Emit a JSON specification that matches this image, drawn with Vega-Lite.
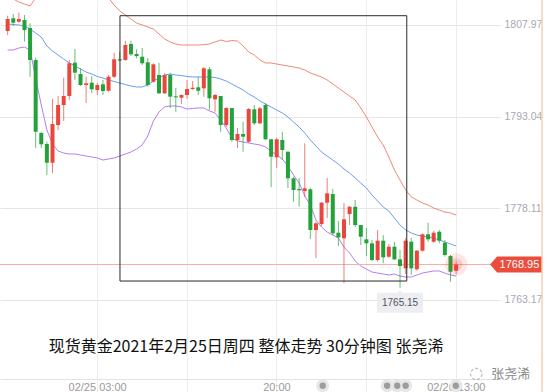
{
  "$schema": "https://vega.github.io/schema/vega-lite/v6.json",
  "width": 500,
  "height": 392,
  "autosize": {"type": "none"},
  "padding": {"left": 0, "top": 0, "right": 50, "bottom": 0},
  "background": "#ffffff",
  "config": {"view": {"stroke": null}, "font": "Liberation Sans"},
  "datasets": {
    "candles": [
      {"i":0,"o":1806.99,"c":1808.94,"h":1809.48,"l":1806.34,"up":1813.02,"mid":1808.13,"lo":1803.89},
      {"i":1,"o":1809.06,"c":1808.34,"h":1809.76,"l":1807.80,"up":1812.20,"mid":1808.05,"lo":1803.89},
      {"i":2,"o":1808.50,"c":1808.94,"h":1809.97,"l":1808.34,"up":1811.71,"mid":1807.97,"lo":1804.22},
      {"i":3,"o":1808.78,"c":1807.15,"h":1809.60,"l":1805.25,"up":1811.39,"mid":1807.80,"lo":1804.38},
      {"i":4,"o":1807.48,"c":1802.26,"h":1808.24,"l":1799.54,"up":1811.06,"mid":1807.32,"lo":1803.89},
      {"i":5,"o":1802.26,"c":1790.58,"h":1802.64,"l":1787.93,"up":1812.37,"mid":1806.66,"lo":1799.33},
      {"i":6,"o":1790.37,"c":1788.53,"h":1790.58,"l":1787.93,"up":1814.48,"mid":1806.01,"lo":1794.93},
      {"i":7,"o":1788.58,"c":1785.53,"h":1788.95,"l":1783.53,"up":1816.11,"mid":1804.55,"lo":1790.86},
      {"i":8,"o":1785.53,"c":1791.84,"h":1795.91,"l":1783.85,"up":1816.93,"mid":1803.73,"lo":1788.58},
      {"i":9,"o":1791.67,"c":1794.93,"h":1796.40,"l":1790.86,"up":1817.25,"mid":1803.08,"lo":1787.44},
      {"i":10,"o":1794.93,"c":1796.40,"h":1799.38,"l":1792.33,"up":1817.25,"mid":1802.43,"lo":1787.11},
      {"i":11,"o":1796.40,"c":1801.73,"h":1802.26,"l":1795.75,"up":1816.93,"mid":1801.78,"lo":1786.95},
      {"i":12,"o":1801.83,"c":1800.20,"h":1804.06,"l":1799.01,"up":1816.60,"mid":1801.29,"lo":1786.95},
      {"i":13,"o":1799.98,"c":1798.19,"h":1800.91,"l":1798.03,"up":1816.11,"mid":1800.80,"lo":1786.79},
      {"i":14,"o":1798.19,"c":1798.47,"h":1799.54,"l":1795.26,"up":1815.62,"mid":1800.31,"lo":1786.62},
      {"i":15,"o":1798.57,"c":1797.49,"h":1799.66,"l":1796.84,"up":1814.97,"mid":1799.98,"lo":1786.46},
      {"i":16,"o":1797.38,"c":1798.19,"h":1798.52,"l":1796.56,"up":1813.99,"mid":1799.58,"lo":1786.30},
      {"i":17,"o":1798.31,"c":1797.21,"h":1799.01,"l":1796.56,"up":1813.18,"mid":1799.33,"lo":1785.97},
      {"i":18,"o":1797.26,"c":1799.54,"h":1799.82,"l":1797.10,"up":1812.37,"mid":1799.01,"lo":1786.14},
      {"i":19,"o":1799.54,"c":1802.38,"h":1803.41,"l":1799.33,"up":1811.23,"mid":1798.76,"lo":1786.30},
      {"i":20,"o":1802.38,"c":1802.18,"h":1803.57,"l":1802.15,"up":1810.25,"mid":1798.52,"lo":1786.62},
      {"i":21,"o":1802.26,"c":1804.71,"h":1805.41,"l":1802.15,"up":1809.60,"mid":1798.27,"lo":1786.95},
      {"i":22,"o":1804.87,"c":1803.19,"h":1805.41,"l":1802.92,"up":1808.94,"mid":1798.03,"lo":1787.28},
      {"i":23,"o":1803.24,"c":1802.92,"h":1804.01,"l":1802.54,"up":1808.29,"mid":1797.87,"lo":1787.77},
      {"i":24,"o":1802.80,"c":1801.73,"h":1804.22,"l":1801.45,"up":1807.97,"mid":1797.87,"lo":1788.42},
      {"i":25,"o":1801.89,"c":1798.19,"h":1802.59,"l":1797.91,"up":1807.64,"mid":1798.19,"lo":1789.88},
      {"i":26,"o":1798.73,"c":1801.56,"h":1801.73,"l":1798.57,"up":1807.32,"mid":1798.84,"lo":1792.33},
      {"i":27,"o":1799.82,"c":1796.84,"h":1801.78,"l":1796.73,"up":1806.50,"mid":1799.33,"lo":1793.79},
      {"i":28,"o":1796.84,"c":1799.82,"h":1800.10,"l":1796.73,"up":1805.69,"mid":1799.82,"lo":1794.61},
      {"i":29,"o":1799.82,"c":1796.29,"h":1800.15,"l":1794.44,"up":1805.20,"mid":1799.98,"lo":1794.77},
      {"i":30,"o":1796.35,"c":1796.18,"h":1797.70,"l":1793.84,"up":1804.87,"mid":1799.82,"lo":1794.77},
      {"i":31,"o":1796.12,"c":1796.56,"h":1796.64,"l":1795.10,"up":1804.71,"mid":1799.74,"lo":1794.61},
      {"i":32,"o":1796.56,"c":1797.54,"h":1799.01,"l":1795.91,"up":1804.71,"mid":1799.58,"lo":1794.28},
      {"i":33,"o":1797.54,"c":1797.75,"h":1798.84,"l":1797.38,"up":1804.71,"mid":1799.50,"lo":1794.36},
      {"i":34,"o":1797.82,"c":1797.26,"h":1799.54,"l":1796.56,"up":1804.71,"mid":1799.50,"lo":1794.45},
      {"i":35,"o":1797.65,"c":1800.91,"h":1801.12,"l":1796.29,"up":1804.76,"mid":1799.50,"lo":1794.45},
      {"i":36,"o":1800.75,"c":1796.03,"h":1801.12,"l":1794.12,"up":1804.87,"mid":1799.50,"lo":1793.96},
      {"i":37,"o":1795.86,"c":1796.56,"h":1796.73,"l":1793.84,"up":1805.20,"mid":1799.41,"lo":1793.63},
      {"i":38,"o":1796.40,"c":1791.67,"h":1796.40,"l":1790.58,"up":1805.52,"mid":1799.17,"lo":1792.49},
      {"i":39,"o":1791.67,"c":1794.44,"h":1794.61,"l":1791.35,"up":1805.28,"mid":1798.84,"lo":1791.19},
      {"i":40,"o":1794.44,"c":1789.23,"h":1794.44,"l":1788.95,"up":1805.44,"mid":1798.35,"lo":1789.56},
      {"i":41,"o":1789.23,"c":1790.21,"h":1791.19,"l":1787.93,"up":1805.36,"mid":1797.87,"lo":1789.07},
      {"i":42,"o":1790.21,"c":1789.77,"h":1792.21,"l":1787.33,"up":1804.55,"mid":1797.38,"lo":1788.91},
      {"i":43,"o":1788.95,"c":1794.28,"h":1794.44,"l":1788.74,"up":1803.57,"mid":1796.73,"lo":1788.74},
      {"i":44,"o":1794.23,"c":1791.95,"h":1794.93,"l":1791.67,"up":1803.08,"mid":1796.24,"lo":1788.58},
      {"i":45,"o":1791.95,"c":1794.40,"h":1794.61,"l":1791.84,"up":1802.27,"mid":1795.59,"lo":1788.42},
      {"i":46,"o":1794.93,"c":1789.35,"h":1795.21,"l":1789.23,"up":1801.78,"mid":1795.10,"lo":1788.09},
      {"i":47,"o":1789.35,"c":1786.51,"h":1789.35,"l":1781.57,"up":1801.78,"mid":1794.61,"lo":1787.44},
      {"i":48,"o":1786.41,"c":1789.35,"h":1789.56,"l":1784.67,"up":1801.61,"mid":1794.12,"lo":1786.79},
      {"i":49,"o":1789.23,"c":1787.60,"h":1790.58,"l":1785.97,"up":1801.45,"mid":1793.63,"lo":1786.14},
      {"i":50,"o":1787.33,"c":1782.99,"h":1787.33,"l":1781.41,"up":1801.29,"mid":1792.98,"lo":1785.00},
      {"i":51,"o":1782.99,"c":1781.09,"h":1783.25,"l":1779.18,"up":1801.12,"mid":1792.16,"lo":1783.53},
      {"i":52,"o":1781.25,"c":1781.05,"h":1783.04,"l":1778.36,"up":1800.96,"mid":1791.35,"lo":1782.23},
      {"i":53,"o":1780.92,"c":1781.36,"h":1788.69,"l":1779.99,"up":1800.64,"mid":1790.37,"lo":1780.11},
      {"i":54,"o":1781.20,"c":1774.57,"h":1781.41,"l":1773.10,"up":1800.15,"mid":1789.23,"lo":1778.64},
      {"i":55,"o":1774.57,"c":1775.66,"h":1775.92,"l":1770.01,"up":1799.82,"mid":1788.25,"lo":1776.20},
      {"i":56,"o":1775.55,"c":1779.02,"h":1779.18,"l":1775.22,"up":1799.50,"mid":1787.28,"lo":1775.06},
      {"i":57,"o":1779.02,"c":1780.55,"h":1783.04,"l":1776.52,"up":1799.01,"mid":1786.62,"lo":1774.24},
      {"i":58,"o":1780.43,"c":1774.03,"h":1781.25,"l":1773.75,"up":1798.35,"mid":1785.97,"lo":1773.75},
      {"i":59,"o":1774.13,"c":1773.38,"h":1776.03,"l":1771.96,"up":1797.70,"mid":1785.32,"lo":1773.26},
      {"i":60,"o":1773.22,"c":1776.31,"h":1778.97,"l":1765.93,"up":1797.05,"mid":1784.51,"lo":1771.80},
      {"i":61,"o":1777.17,"c":1778.36,"h":1778.48,"l":1775.38,"up":1796.40,"mid":1783.85,"lo":1770.82},
      {"i":62,"o":1778.36,"c":1775.38,"h":1779.46,"l":1775.06,"up":1795.75,"mid":1783.04,"lo":1769.52},
      {"i":63,"o":1775.38,"c":1773.48,"h":1775.38,"l":1772.12,"up":1794.45,"mid":1782.23,"lo":1768.70},
      {"i":64,"o":1773.05,"c":1772.40,"h":1774.89,"l":1770.33,"up":1792.98,"mid":1781.41,"lo":1768.21},
      {"i":65,"o":1772.40,"c":1769.68,"h":1772.94,"l":1769.52,"up":1791.35,"mid":1780.27,"lo":1767.73},
      {"i":66,"o":1769.68,"c":1772.83,"h":1774.57,"l":1769.40,"up":1789.72,"mid":1779.29,"lo":1767.56},
      {"i":67,"o":1772.83,"c":1770.12,"h":1773.75,"l":1769.14,"up":1788.42,"mid":1778.32,"lo":1767.40},
      {"i":68,"o":1770.22,"c":1771.85,"h":1772.29,"l":1770.01,"up":1786.46,"mid":1777.66,"lo":1767.24},
      {"i":69,"o":1771.85,"c":1769.79,"h":1772.61,"l":1769.68,"up":1784.34,"mid":1776.52,"lo":1767.40},
      {"i":70,"o":1769.79,"c":1768.70,"h":1771.31,"l":1765.15,"up":1782.71,"mid":1775.38,"lo":1767.07},
      {"i":71,"o":1768.33,"c":1772.83,"h":1773.22,"l":1767.40,"up":1781.09,"mid":1774.57,"lo":1766.91},
      {"i":72,"o":1772.66,"c":1768.33,"h":1773.27,"l":1767.24,"up":1779.95,"mid":1774.08,"lo":1766.91},
      {"i":73,"o":1768.17,"c":1771.20,"h":1771.31,"l":1767.94,"up":1779.46,"mid":1773.75,"lo":1767.24},
      {"i":74,"o":1771.20,"c":1773.87,"h":1774.03,"l":1771.03,"up":1778.97,"mid":1773.59,"lo":1767.56},
      {"i":75,"o":1773.87,"c":1773.05,"h":1775.76,"l":1772.66,"up":1778.64,"mid":1773.43,"lo":1767.73},
      {"i":76,"o":1772.66,"c":1774.13,"h":1774.45,"l":1772.50,"up":1778.15,"mid":1773.27,"lo":1767.89},
      {"i":77,"o":1774.29,"c":1772.83,"h":1774.57,"l":1772.40,"up":1777.83,"mid":1772.94,"lo":1767.89},
      {"i":78,"o":1772.50,"c":1770.50,"h":1772.94,"l":1770.22,"up":1777.50,"mid":1772.62,"lo":1767.56},
      {"i":79,"o":1770.33,"c":1767.77,"h":1770.50,"l":1766.15,"up":1777.34,"mid":1772.29,"lo":1767.24},
      {"i":80,"o":1767.94,"c":1768.95,"h":1769.40,"l":1767.40,"up":1777.01,"mid":1771.96,"lo":1767.07}
    ],
    "last": [{"i": 80, "p": 1768.95, "label": "1768.95"}],
    "low": [{"i": 70, "p": 1765.15, "label": "1765.15"}],
    "box": [{"i1": 20.04, "i2": 71.2, "p1": 1809.48, "p2": 1766.26}],
    "title": [{"t": "现货黄金2021年2月25日周四 整体走势  30分钟图 张尧浠"}],
    "dots": [{"i": 56.2}, {"i": 67.7}, {"i": 69.5}, {"i": 71.0}, {"i": 79.95}]
  },
  "data": {"name": "candles"},
  "layer": [
    {
      "mark": {"type": "line", "color": "#ec8a76", "strokeWidth": 1, "clip": true},
      "encoding": {
        "x": {"field": "i", "type": "quantitative", "title": null,
          "scale": {"domain": [-0.472, 86.94], "nice": false, "zero": false},
          "axis": {"orient": "bottom", "offset": -13, "values": [15.96, 32.05, 47.95, 63.86, 79.95],
            "labelExpr": "datum.value < 20 ? '02/25 03:00' : (datum.value > 45 && datum.value < 50) ? '20:00' : datum.value > 75 ? '02/26 13:00' : ''",
            "grid": true, "gridColor": "#ececec", "domain": true, "domainColor": "#e2e2e2",
            "ticks": false, "labelPadding": 2, "labelColor": "#9a9a9a", "labelFontSize": 11,
            "labelFlush": false, "labelOverlap": false}},
        "y": {"field": "up", "type": "quantitative", "title": null,
          "scale": {"domain": [1748.18, 1812.04], "nice": false, "zero": false},
          "axis": {"orient": "right", "values": [1763.17, 1778.11, 1793.04, 1807.97], "format": ".2f",
            "grid": true, "gridColor": "#e6e6e6", "domain": false, "ticks": false,
            "labelPadding": 4, "labelColor": "#a9a9b2", "labelFontSize": 10.5}}
      }
    },
    {
      "mark": {"type": "line", "color": "#6b9cf2", "strokeWidth": 1, "clip": true},
      "encoding": {
        "x": {"field": "i", "type": "quantitative", "title": null},
        "y": {"field": "mid", "type": "quantitative", "title": null}
      }
    },
    {
      "mark": {"type": "line", "color": "#b77cf2", "strokeWidth": 1, "clip": true},
      "encoding": {
        "x": {"field": "i", "type": "quantitative", "title": null},
        "y": {"field": "lo", "type": "quantitative", "title": null}
      }
    },
    {
      "data": {"name": "last"},
      "mark": {"type": "rule", "color": "#f6b0a8", "strokeWidth": 1},
      "encoding": {"y": {"field": "p", "type": "quantitative", "title": null}}
    },
    {
      "mark": {"type": "rule", "strokeWidth": 1, "opacity": 0.7},
      "encoding": {
        "x": {"field": "i", "type": "quantitative", "title": null},
        "y": {"field": "l", "type": "quantitative", "title": null},
        "y2": {"field": "h"},
        "color": {"condition": {"test": "datum.c >= datum.o", "value": "#e9473e"}, "value": "#23a23a"}
      }
    },
    {
      "mark": {"type": "bar", "width": 4},
      "encoding": {
        "x": {"field": "i", "type": "quantitative", "title": null},
        "y": {"field": "o", "type": "quantitative", "title": null},
        "y2": {"field": "c"},
        "color": {"condition": {"test": "datum.c >= datum.o", "value": "#e9473e"}, "value": "#23a23a"}
      }
    },
    {
      "data": {"name": "box"},
      "mark": {"type": "rect", "fill": null, "fillOpacity": 0, "stroke": "#2a2a2a", "strokeWidth": 1},
      "encoding": {
        "x": {"field": "i1", "type": "quantitative", "title": null},
        "x2": {"field": "i2"},
        "y": {"field": "p1", "type": "quantitative", "title": null},
        "y2": {"field": "p2"}
      }
    },
    {
      "data": {"name": "last"},
      "mark": {"type": "point", "shape": "circle", "filled": true, "color": "#f03a2e", "opacity": 0.12, "size": 500},
      "encoding": {
        "x": {"field": "i", "type": "quantitative", "title": null},
        "y": {"field": "p", "type": "quantitative", "title": null}
      }
    },
    {
      "data": {"name": "last"},
      "mark": {"type": "point", "shape": "circle", "filled": true, "color": "#f03a2e", "opacity": 0.18, "size": 160},
      "encoding": {
        "x": {"field": "i", "type": "quantitative", "title": null},
        "y": {"field": "p", "type": "quantitative", "title": null}
      }
    },
    {
      "data": {"name": "last"},
      "mark": {"type": "point", "shape": "M-1,0L-0.73,-0.3077L1,-0.3077L1,0.3077L-0.73,0.3077Z", "filled": true, "color": "#ec4c3c", "opacity": 1, "size": 2704},
      "encoding": {
        "x": {"datum": 90.7, "type": "quantitative", "title": null},
        "y": {"field": "p", "type": "quantitative", "title": null}
      }
    },
    {
      "data": {"name": "last"},
      "mark": {"type": "text", "color": "#ffffff", "fontSize": 11, "align": "center", "baseline": "middle"},
      "encoding": {
        "x": {"datum": 91.3, "type": "quantitative", "title": null},
        "y": {"field": "p", "type": "quantitative", "title": null},
        "text": {"field": "label"}
      }
    },
    {
      "data": {"name": "low"},
      "mark": {"type": "point", "shape": "M-0.92,0.2L-0.1,0.2L0,0.08L0.1,0.2L0.92,0.2L0.92,1L-0.92,1Z", "filled": true, "color": "#eceef2", "opacity": 1, "size": 2500},
      "encoding": {
        "x": {"field": "i", "type": "quantitative", "title": null},
        "y": {"field": "p", "type": "quantitative", "title": null}
      }
    },
    {
      "data": {"name": "low"},
      "mark": {"type": "text", "color": "#555555", "fontSize": 10, "align": "center", "baseline": "middle", "dy": 15},
      "encoding": {
        "x": {"field": "i", "type": "quantitative", "title": null},
        "y": {"field": "p", "type": "quantitative", "title": null},
        "text": {"field": "label"}
      }
    },
    {
      "data": {"name": "title"},
      "mark": {"type": "text", "color": "#111111", "fontSize": 16, "font": "Noto Sans CJK SC", "align": "center", "baseline": "middle"},
      "encoding": {
        "x": {"datum": 42.53, "type": "quantitative", "title": null},
        "y": {"datum": 1755.51, "type": "quantitative", "title": null},
        "text": {"field": "t"}
      }
    },
    {
      "data": {"values": [{"t": "张尧浠"}]},
      "mark": {"type": "text", "color": "#8a8a8a", "fontSize": 13, "font": "Noto Sans CJK SC", "align": "center", "baseline": "middle"},
      "encoding": {
        "x": {"datum": 89.74, "type": "quantitative", "title": null},
        "y": {"datum": 1751.11, "type": "quantitative", "title": null},
        "text": {"field": "t"}
      }
    },
    {
      "data": {"values": [{"t": "w"}]},
      "mark": {"type": "point", "shape": "circle", "filled": false, "color": "#a0a0a0", "strokeWidth": 1.2, "strokeDash": [3, 2], "size": 130},
      "encoding": {
        "x": {"datum": 83.6, "type": "quantitative", "title": null},
        "y": {"datum": 1751.11, "type": "quantitative", "title": null}
      }
    },
    {
      "data": {"name": "dots"},
      "mark": {"type": "point", "shape": "circle", "filled": true, "color": "#e6e6e6", "opacity": 1, "size": 170},
      "encoding": {
        "x": {"field": "i", "type": "quantitative", "title": null},
        "y": {"datum": 1749.2, "type": "quantitative", "title": null}
      }
    },
    {
      "data": {"name": "dots"},
      "mark": {"type": "point", "shape": "circle", "filled": true, "color": "#9c9c9c", "opacity": 1, "size": 40},
      "encoding": {
        "x": {"field": "i", "type": "quantitative", "title": null},
        "y": {"datum": 1749.2, "type": "quantitative", "title": null}
      }
    },
    {
      "data": {"values": [{"t": "edge"}]},
      "mark": {"type": "rule", "color": "#f9cfb0", "strokeWidth": 1.5},
      "encoding": {"x": {"datum": 95.33, "type": "quantitative", "title": null}}
    }
  ]
}
